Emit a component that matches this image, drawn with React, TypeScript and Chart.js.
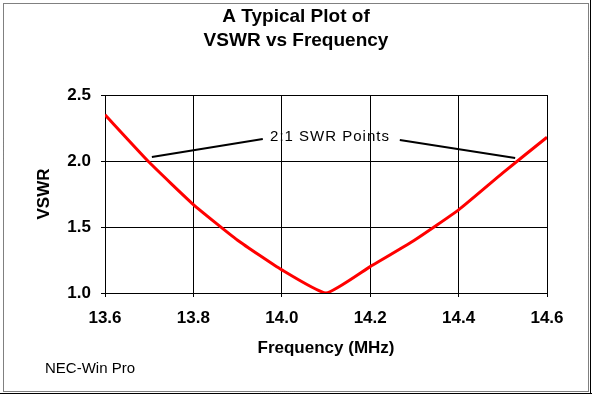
import { useEffect, useRef } from 'react';
import { Chart, registerables } from 'chart.js';

Chart.register(...registerables);

// ---- Data ----
const frequencies = [13.6, 13.7, 13.8, 13.9, 14.0, 14.1, 14.2, 14.3, 14.4, 14.5, 14.6];
const vswrValues = [2.35, 1.99, 1.67, 1.4, 1.175, 1.0, 1.2, 1.4, 1.63, 1.91, 2.18];

const titleLines = ['A Typical Plot of', 'VSWR vs Frequency'];
const xAxisTitle = 'Frequency (MHz)';
const yAxisTitle = 'VSWR';
const footerText = 'NEC-Win Pro';

const xRange = [13.6, 14.6];
const xStep = 0.2;
const yRange = [1.0, 2.5];
const yStep = 0.5;

// annotation: label and the two pointer lines, in data units
const annotationText = '2:1 SWR Points';
const annotationAt = [14.109, 2.182];
const leftPointer = [
  [13.957, 2.167],
  [13.706, 2.03],
];
const rightPointer = [
  [14.267, 2.159],
  [14.528, 2.023],
];

const FONT = '"Liberation Sans", Arial, Helvetica, sans-serif';

const W = 592;
const H = 394;

const overlayPlugin = {
  id: 'overlay',
  afterDatasetsDraw(chart: any) {
    const { ctx, scales } = chart;
    const x = scales.x;
    const y = scales.y;
    ctx.save();
    ctx.strokeStyle = '#000000';
    ctx.lineWidth = 2;
    for (const seg of [leftPointer, rightPointer]) {
      ctx.beginPath();
      ctx.moveTo(x.getPixelForValue(seg[0][0]), y.getPixelForValue(seg[0][1]));
      ctx.lineTo(x.getPixelForValue(seg[1][0]), y.getPixelForValue(seg[1][1]));
      ctx.stroke();
    }
    ctx.font = `15px ${FONT}`;
    try {
      (ctx as any).letterSpacing = '1px';
    } catch (e) {}
    ctx.fillStyle = '#000000';
    ctx.textAlign = 'center';
    ctx.textBaseline = 'middle';
    ctx.fillText(annotationText, x.getPixelForValue(annotationAt[0]), y.getPixelForValue(annotationAt[1]));
    ctx.restore();
  },
  afterDraw(chart: any) {
    const { ctx } = chart;
    const w = chart.width;
    const h = chart.height;
    ctx.save();
    // footer
    ctx.font = `15px ${FONT}`;
    ctx.fillStyle = '#000000';
    ctx.textAlign = 'left';
    ctx.textBaseline = 'middle';
    ctx.fillText(footerText, 45, h - 25);
    // frame: dotted inner rectangle, solid right/bottom edges
    ctx.strokeStyle = '#000000';
    ctx.lineWidth = 1;
    ctx.setLineDash([1, 1]);
    ctx.strokeRect(3.5, 3.5, w - 7, h - 6);
    ctx.setLineDash([]);
    ctx.beginPath();
    ctx.moveTo(w - 1.5, 0);
    ctx.lineTo(w - 1.5, h - 0.5);
    ctx.moveTo(0, h - 0.5);
    ctx.lineTo(w, h - 0.5);
    ctx.stroke();
    ctx.restore();
  },
};

export default function App() {
  const canvasRef = useRef<HTMLCanvasElement | null>(null);

  useEffect(() => {
    const canvas = canvasRef.current;
    if (!canvas) return;
    const chart = new Chart(canvas, {
      type: 'line',
      data: {
        datasets: [
          {
            label: 'VSWR',
            data: frequencies.map((f, i) => ({ x: f, y: vswrValues[i] })),
            borderColor: '#ff0000',
            backgroundColor: '#ff0000',
            borderWidth: 3,
            pointRadius: 0,
            tension: 0.15,
            fill: false,
          },
        ],
      },
      options: {
        responsive: false,
        animation: false,
        devicePixelRatio: 1,
        layout: { padding: 0 },
        plugins: {
          legend: { display: false },
          tooltip: { enabled: false },
          title: {
            display: true,
            text: titleLines,
            color: '#000000',
            font: { family: FONT, size: 19, weight: 'bold', lineHeight: 1.2632 },
            padding: { top: 5, bottom: 42 },
          },
        },
        scales: {
          x: {
            type: 'linear',
            min: xRange[0],
            max: xRange[1],
            afterFit: (scale: any) => {
              scale.height = 101;
            },
            ticks: {
              stepSize: xStep,
              color: '#000000',
              padding: 11,
              maxRotation: 0,
              autoSkip: false,
              font: { family: FONT, size: 17, weight: 'bold' },
              callback: (v: any) => Number(v).toFixed(1),
            },
            grid: {
              color: '#000000',
              lineWidth: 1,
              drawTicks: true,
              tickLength: 4,
              tickColor: '#000000',
            },
            border: { color: '#000000', width: 1 },
            title: {
              display: true,
              text: xAxisTitle,
              color: '#000000',
              font: { family: FONT, size: 17, weight: 'bold' },
              padding: { top: 0, bottom: 35 },
            },
          },
          y: {
            type: 'linear',
            min: yRange[0],
            max: yRange[1],
            afterFit: (scale: any) => {
              scale.width = 105;
            },
            ticks: {
              stepSize: yStep,
              color: '#000000',
              padding: 10,
              font: { family: FONT, size: 17, weight: 'bold' },
              callback: (v: any) => Number(v).toFixed(1),
            },
            grid: {
              color: '#000000',
              lineWidth: 1,
              drawTicks: true,
              tickLength: 4,
              tickColor: '#000000',
            },
            border: { color: '#000000', width: 1 },
            title: {
              display: true,
              text: yAxisTitle,
              color: '#000000',
              font: { family: FONT, size: 17, weight: 'bold' },
              padding: { top: 34, bottom: 0 },
            },
          },
          spacer: {
            type: 'linear',
            position: 'right',
            min: yRange[0],
            max: yRange[1],
            afterFit: (scale: any) => {
              scale.width = 45;
            },
            ticks: { display: false },
            grid: { display: false, drawOnChartArea: false },
            border: { display: false },
          },
        },
      },
      plugins: [overlayPlugin],
    });
    return () => {
      chart.destroy();
    };
  }, []);

  return (
    <div style={{ position: 'absolute', left: 0, top: 0, width: W, height: H, background: '#ffffff' }}>
      <canvas ref={canvasRef} width={W} height={H} style={{ display: 'block', width: W, height: H }} />
    </div>
  );
}
